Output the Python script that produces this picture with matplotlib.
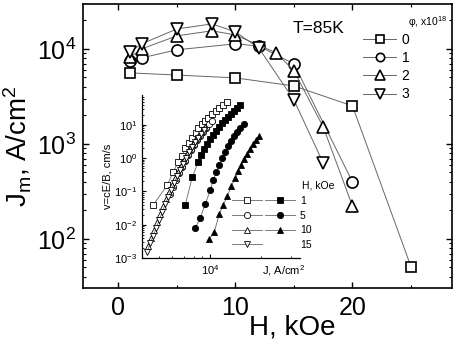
import matplotlib.pyplot as plt
import numpy as np
from matplotlib.ticker import LogLocator, NullFormatter, MultipleLocator
from matplotlib.legend_handler import HandlerTuple
from matplotlib.lines import Line2D

plt.rcParams['font.family'] = ['Liberation Sans', 'DejaVu Sans']
plt.rcParams['mathtext.fontset'] = 'custom'
plt.rcParams['mathtext.rm'] = 'Liberation Sans'
plt.rcParams['mathtext.it'] = 'Liberation Sans:italic'
plt.rcParams['mathtext.default'] = 'regular'

# main plot: Jm vs H for different fluences phi
h0 = [1, 5, 10, 15, 20, 25]
jm0 = [5590, 5300, 4950, 4070, 2510, 51]
h1 = [1, 2, 5, 10, 12, 15, 20]
jm1 = [7400, 8040, 9770, 11300, 10700, 6960, 398]
h2 = [1, 2, 5, 8, 10, 13.5, 15, 17.5, 20]
jm2 = [8200, 10000, 13700, 15500, 14000, 9080, 5870, 1510, 222]
h3 = [1, 2, 5, 8, 10, 12, 15, 17.5]
jm3 = [9300, 11300, 16200, 18300, 15100, 10200, 2900, 630]
phi_labels = ['0', '1', '2', '3']

# inset: v vs J for different H
j_o1 = [4620, 5590, 6060, 6480, 6840, 7130, 7520, 7840, 8270, 8500, 8970, 9350, 9730, 10270, 10850, 11290, 11920, 12590]
v_o1 = [0.0388, 0.155, 0.380, 0.759, 1.15, 2.0, 2.82, 3.99, 5.63, 7.96, 10.5, 12.9, 15.9, 21.0, 25.8, 31.7, 39.1, 48.1]
j_o5 = [5820, 6060, 6310, 6570, 6840, 7130, 7420, 7730, 8050, 8390, 8730, 9100, 9470, 9860, 10270]
v_o5 = [0.0830, 0.135, 0.218, 0.355, 0.537, 0.813, 1.23, 1.74, 2.46, 3.47, 4.58, 6.04, 7.96, 10.5, 12.9]
j_o10 = [4320, 4500, 4680, 4880, 5080, 5290, 5510, 5740, 5980, 6220, 6480, 6750, 7030, 7320, 7630, 7940, 8270, 8620, 8970, 9350]
v_o10 = [0.00228, 0.00396, 0.00689, 0.0120, 0.0208, 0.0362, 0.0587, 0.0953, 0.155, 0.251, 0.380, 0.575, 0.871, 1.32, 1.86, 2.63, 3.72, 4.91, 6.47, 8.53]
j_o15 = [4260, 4440, 4620, 4810, 5010, 5220, 5440, 5660, 5900, 6140, 6390, 6660, 6940, 7220, 7520, 7840, 8160, 8500, 8850, 9220]
v_o15 = [0.00150, 0.00280, 0.00455, 0.00791, 0.0137, 0.0239, 0.0416, 0.0675, 0.109, 0.177, 0.288, 0.436, 0.661, 1.0, 1.51, 2.14, 3.02, 3.99, 5.26, 6.93]
j_f1 = [7130, 7840, 8500, 8850, 9220, 9600, 10000, 10410, 10850, 11290, 11770, 12250, 12760, 13290, 13840, 14420, 15020]
v_f1 = [0.0388, 0.269, 0.759, 1.23, 1.86, 2.63, 3.72, 4.91, 6.47, 8.53, 11.2, 13.8, 17.0, 21.0, 25.8, 31.7, 39.1]
j_f5 = [8160, 8730, 9350, 10000, 10410, 10850, 11290, 11770, 12250, 12760, 13290, 13840, 14420, 15020, 15850]
v_f5 = [0.00791, 0.0158, 0.0416, 0.109, 0.218, 0.380, 0.617, 1.0, 1.51, 2.29, 3.24, 4.58, 6.04, 7.96, 10.5]
j_f10 = [9860, 10560, 11290, 11920, 12590, 13290, 14030, 14610, 15220, 15850, 16510, 17190, 17900, 18650, 19420]
v_f10 = [0.00370, 0.00600, 0.0208, 0.0388, 0.0723, 0.144, 0.251, 0.407, 0.617, 0.933, 1.32, 1.86, 2.63, 3.47, 4.58]
h_labels = ['1', '5', '10', '15']

fig = plt.figure(figsize=(4.57, 3.46), dpi=100)
ax = fig.add_axes([0.182, 0.168, 0.807, 0.821])

lc = '#666666'
kw = dict(color=lc, lw=0.7, mfc='white', mec='black', mew=1.2)
l0, = ax.plot(h0, jm0, marker='s', ms=7.5, label=phi_labels[0], **kw)
l1, = ax.plot(h1, jm1, marker='o', ms=8, label=phi_labels[1], **kw)
l2, = ax.plot(h2, jm2, marker='^', ms=9, label=phi_labels[2], **kw)
l3, = ax.plot(h3, jm3, marker='v', ms=9, label=phi_labels[3], **kw)

ax.set_yscale('log')
ax.set_xlim(-3, 28.5)
ax.set_ylim(30.5, 29800)
ax.xaxis.set_major_locator(MultipleLocator(10))
ax.xaxis.set_minor_locator(MultipleLocator(5))
ax.tick_params(which='both', direction='in', top=True, right=True, labelsize=18)
ax.tick_params(which='major', length=4, width=1)
ax.tick_params(which='minor', length=2.5, width=0.8)
ax.tick_params(axis='x', pad=6)
ax.tick_params(axis='y', pad=5)
for s in ax.spines.values():
    s.set_linewidth(1.2)

ax.set_xlabel('H, kOe', fontsize=20)
ax.xaxis.set_label_coords(0.566, -0.095)
ax.set_ylabel('J$_m$, A/cm$^2$', fontsize=20, labelpad=2)

ax.text(0.569, 0.912, 'T=85K', transform=ax.transAxes, fontsize=12.5, va='center', ha='left')
ax.text(0.986, 0.937, 'φ, x10$^{18}$', transform=ax.transAxes, fontsize=7.5, va='center', ha='right')
ax.legend(loc='upper left', bbox_to_anchor=(0.794, 0.905), bbox_transform=fig.transFigure,
          frameon=False, fontsize=10, handlelength=2.4, handletextpad=0.4,
          labelspacing=0.3, borderpad=0, borderaxespad=0, numpoints=1, markerscale=0.75)

# inset
ins = fig.add_axes([0.311, 0.254, 0.346, 0.471])
ins.patch.set_alpha(0)
ikw = dict(color=lc, lw=0.6, mec='black', mew=0.6, ms=4.5)
o1, = ins.plot(j_o1, v_o1, marker='s', mfc='white', **ikw)
o5, = ins.plot(j_o5, v_o5, marker='o', mfc='white', **ikw)
o10, = ins.plot(j_o10, v_o10, marker='^', mfc='white', **ikw)
o15, = ins.plot(j_o15, v_o15, marker='v', mfc='white', **ikw)
f1, = ins.plot(j_f1, v_f1, marker='s', mfc='black', **ikw)
f5, = ins.plot(j_f5, v_f5, marker='o', mfc='black', **ikw)
f10, = ins.plot(j_f10, v_f10, marker='^', mfc='black', **ikw)

ins.set_xscale('log')
ins.set_yscale('log')
ins.set_xlim(3981, 33800)
ins.set_ylim(0.001, 78)
ins.spines['top'].set_visible(False)
ins.spines['right'].set_visible(False)
ins.yaxis.set_major_locator(LogLocator(base=10, numticks=10))
ins.yaxis.set_minor_locator(LogLocator(base=10, subs=np.arange(2, 10), numticks=10))
ins.xaxis.set_minor_locator(LogLocator(base=10, subs=np.arange(2, 10), numticks=10))
ins.xaxis.set_minor_formatter(NullFormatter())
ins.yaxis.set_minor_formatter(NullFormatter())
ins.tick_params(which='both', direction='in', labelsize=8)
ins.tick_params(which='major', length=3, width=0.8)
ins.tick_params(which='minor', length=1.5, width=0.6)
for s in ins.spines.values():
    s.set_linewidth(0.9)
ins.set_ylabel('v=cE/B, cm/s', fontsize=8, labelpad=1)
ins.set_xlabel('J, A/cm$^2$', fontsize=8, ha='right', va='top')
ins.xaxis.set_label_coords(1.03, -0.03)

blank = Line2D([], [], linestyle='none')
fig.text(0.733, 0.465, 'H, kOe', fontsize=7.5, ha='right', va='center')
ins.legend([(o1, f1), (o5, f5), (o10, f10), (o15, blank)], h_labels,
           handler_map={tuple: HandlerTuple(ndivide=None, pad=0.3)},
           loc='upper left', bbox_to_anchor=(0.508, 0.434), bbox_transform=fig.transFigure,
           frameon=False, fontsize=7.5, handlelength=6, handletextpad=0.5,
           labelspacing=0.45, borderpad=0, borderaxespad=0, numpoints=1)

fig.savefig('out.png', dpi=100)
